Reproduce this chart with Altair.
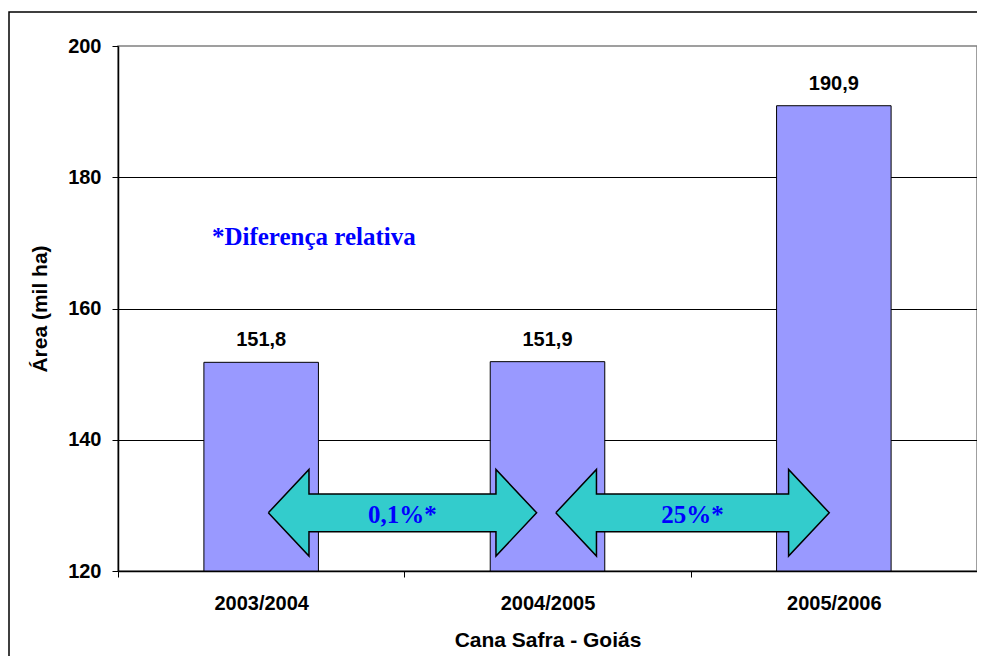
import altair as alt
import pandas as pd

# ---- data ----
categories = ["2003/2004", "2004/2005", "2005/2006"]
values = [151.8, 151.9, 190.9]
value_labels = ["151,8", "151,9", "190,9"]
y_ticks = [120, 140, 160, 180, 200]

# relative-difference arrows (data units: x in category slots, y in mil ha)
arrow_start = [0.525, 1.529]
arrow_end = [1.462, 2.484]
arrow_head_len = 0.142
arrow_y = 128.87
arrow_head_half = 6.6
arrow_shaft_half = 2.87
arrow_labels = ["0,1%*", "25%*"]
arrow_label_y = 127.25

note_text = "*Diferença relativa"
note_x = 0.684
note_y = 169.7

ARIAL = "Liberation Sans, Arial, sans-serif"
TIMES = "Liberation Serif, Times New Roman, serif"

n = len(categories)
bars = pd.DataFrame({
    "cat": categories,
    "value": values,
    "label": value_labels,
    "xc": [i + 0.5 for i in range(n)],
})
bars["x0"] = bars["xc"] - 0.2
bars["x1"] = bars["xc"] + 0.2
bars["base"] = y_ticks[0]

rows = []
for k, (a, b) in enumerate(zip(arrow_start, arrow_end)):
    ha, hb = a + arrow_head_len, b - arrow_head_len
    pts = [
        (a, arrow_y),
        (ha, arrow_y + arrow_head_half),
        (ha, arrow_y + arrow_shaft_half),
        (hb, arrow_y + arrow_shaft_half),
        (hb, arrow_y + arrow_head_half),
        (b, arrow_y),
        (hb, arrow_y - arrow_head_half),
        (hb, arrow_y - arrow_shaft_half),
        (ha, arrow_y - arrow_shaft_half),
        (ha, arrow_y - arrow_head_half),
        (a, arrow_y),
    ]
    for s, (x, y) in enumerate(pts):
        rows.append({"arrow": k, "seq": s, "x": x, "y": y})
arrows = pd.DataFrame(rows)
arrow_text = pd.DataFrame({
    "x": [(a + b) / 2 for a, b in zip(arrow_start, arrow_end)],
    "y": [arrow_label_y] * len(arrow_labels),
    "t": arrow_labels,
})
note = pd.DataFrame({"x": [note_x], "y": [note_y], "t": [note_text]})

# ---- scales / axes ----
x_scale = alt.Scale(domain=[0, n], nice=False, zero=False)
y_scale = alt.Scale(domain=[y_ticks[0], y_ticks[-1]], nice=False, zero=False)

label_expr = " : ".join(
    f"datum.value == {i + 0.5} ? '{c}'" for i, c in enumerate(categories)
) + " : ''"

x_axis = alt.Axis(
    values=[i / 2 for i in range(2 * n + 1)],
    labelExpr=label_expr,
    tickOpacity={"condition": {"test": "datum.value % 1 === 0", "value": 1}, "value": 0},
    grid=False,
    title="Cana Safra - Goiás",
    tickSize=6,
    labelPadding=16,
    titlePadding=16,
    labelAngle=0,
    labelOverlap=False,
    labelFlush=False,
    titleFontSize=21,
)
y_axis = alt.Axis(
    values=y_ticks,
    title="Área (mil ha)",
    tickSize=6,
    labelPadding=11,
    titlePadding=17,
    titleFontSize=21,
    gridColor="black",
    gridOpacity={"condition": {"test": f"datum.value === {y_ticks[0]} || datum.value === {y_ticks[-1]}", "value": 0}, "value": 1},
)


def X(f):
    return alt.X(f, scale=x_scale, axis=x_axis)


def Y(f):
    return alt.Y(f, scale=y_scale, axis=y_axis, stack=None)


frame = alt.Chart(alt.Data(values=[{"a": 1}])).mark_rect(
    fill="transparent", stroke="black", strokeWidth=1.5
).encode(
    x=alt.value(-109), x2=alt.value(3000), y=alt.value(-34), y2=alt.value(3000)
)

bar_layer = alt.Chart(bars).mark_rect(
    fill="#9999FF", stroke="black", strokeWidth=1
).encode(x=X("x0:Q"), x2="x1:Q", y=Y("value:Q"), y2="base:Q")

bar_text = alt.Chart(bars).mark_text(
    font=ARIAL, fontWeight="bold", fontSize=20, baseline="alphabetic", dy=-16, color="black"
).encode(x=X("xc:Q"), y=Y("value:Q"), text="label:N")

arrow_layer = alt.Chart(arrows).mark_line(
    fill="#33CCCC", stroke="black", strokeWidth=1.5, strokeJoin="miter", interpolate="linear"
).encode(
    x=X("x:Q"), y=Y("y:Q"), order="seq:Q", detail="arrow:N"
)

arrow_label_layer = alt.Chart(arrow_text).mark_text(
    font=TIMES, fontWeight="bold", fontSize=25, baseline="alphabetic", color="#0000FF"
).encode(x=X("x:Q"), y=Y("y:Q"), text="t:N")

note_layer = alt.Chart(note).mark_text(
    font=TIMES, fontWeight="bold", fontSize=25, baseline="alphabetic", color="#0000FF"
).encode(x=X("x:Q"), y=Y("y:Q"), text="t:N")

chart = alt.layer(
    frame, bar_layer, bar_text, arrow_layer, arrow_label_layer, note_layer
).properties(
    width=859,
    height=525,
    padding={"left": 110, "top": 38, "right": 0, "bottom": 85},
    autosize="none",
    background="white",
).configure_view(
    stroke="#808080", strokeWidth=1.5
).configure_axis(
    domainColor="black",
    domainWidth=1.5,
    tickColor="black",
    tickWidth=1,
    labelFont=ARIAL,
    labelFontWeight="bold",
    labelFontSize=20,
    labelColor="black",
    titleFont=ARIAL,
    titleFontWeight="bold",
    titleFontSize=20,
    titleColor="black",
)

chart.save("out.html", embed_options={"renderer": "svg", "actions": False})
